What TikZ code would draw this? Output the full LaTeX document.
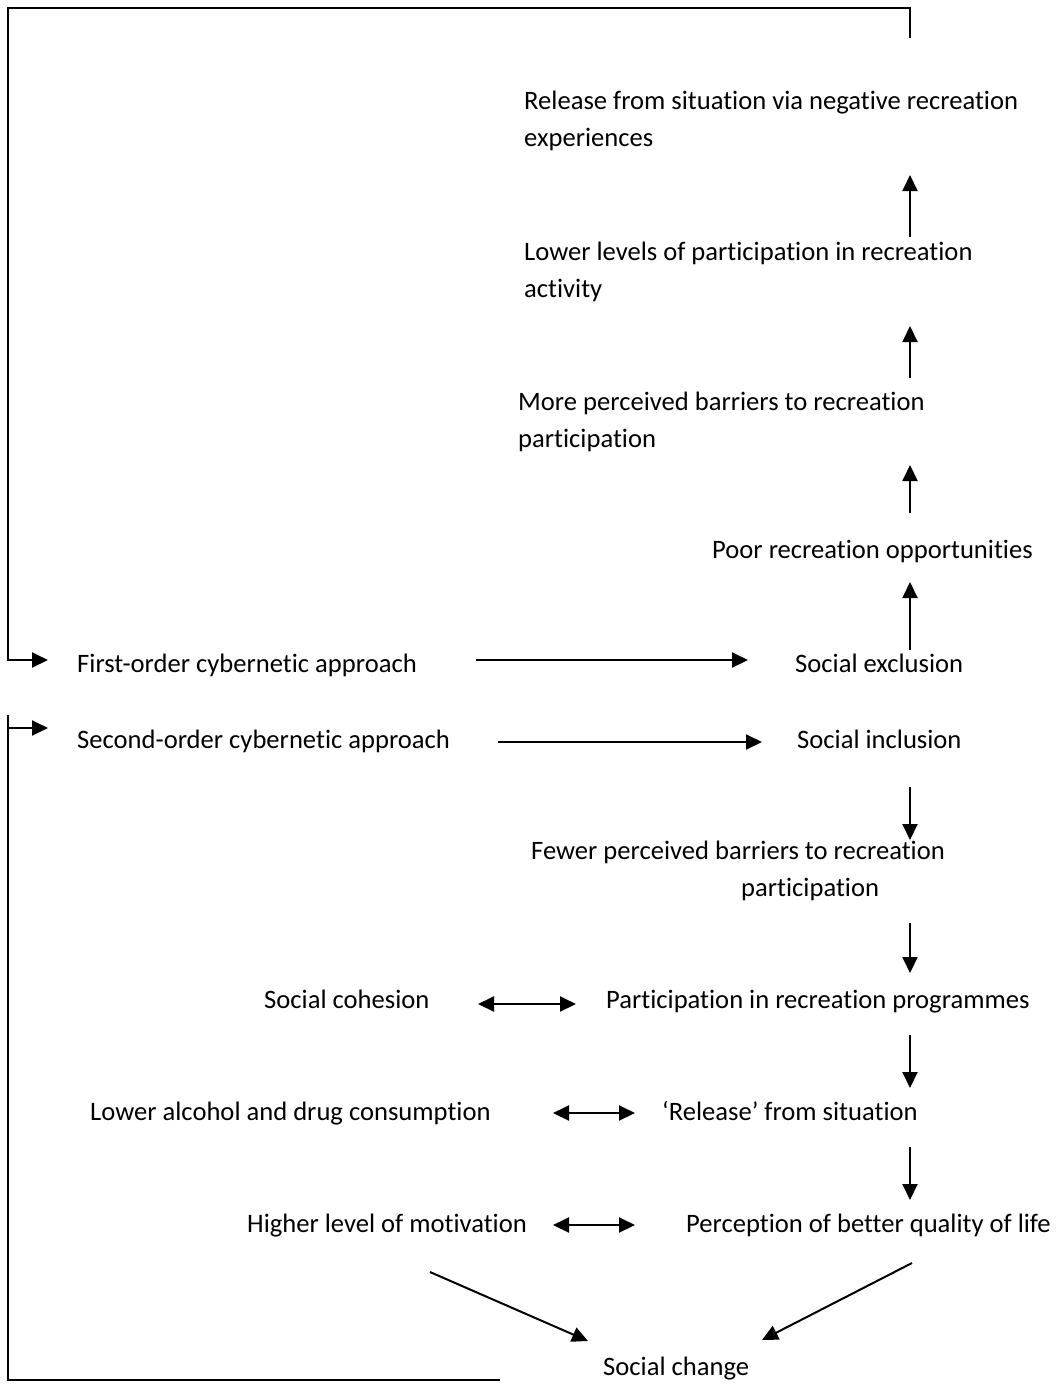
\documentclass[tikz,border=0pt]{standalone}
\usepackage{fontspec}
\setmainfont{Carlito}[Ligatures={NoCommon}]
\usetikzlibrary{arrows.meta}
\begin{document}
\begin{tikzpicture}[x=1pt,y=-1pt,
  lbl/.style={anchor=base west,inner sep=0pt,font=\fontsize{26.6}{37}\selectfont},
  arr/.style={line width=2pt,-{Triangle[length=16pt,width=15pt]}},
  darr/.style={line width=2pt,{Triangle[length=16pt,width=15pt]}-{Triangle[length=16pt,width=15pt]}},
  plain/.style={line width=2pt}]
\useasboundingbox (0,0) rectangle (1055,1387);

% nodes
\node[lbl] (rel)  at (524,109) {\vtop{\hbox{Release from situation via negative recreation}\hbox{experiences}}};
\node[lbl] (low)  at (524,260) {\vtop{\hbox{Lower levels of participation in recreation}\hbox{activity}}};
\node[lbl] (more) at (518,410) {\vtop{\hbox{More perceived barriers to recreation}\hbox{participation}}};
\node[lbl] (poor) at (712,558) {Poor recreation opportunities};
\node[lbl] (first) at (77,672) {First-order cybernetic approach};
\node[lbl] (exc)  at (795,672) {Social exclusion};
\node[lbl] (second) at (77,748) {Second-order cybernetic approach};
\node[lbl] (inc)  at (797,748) {Social inclusion};
\node[lbl] (fewer) at (531,859) {\vtop{\hbox{Fewer perceived barriers to recreation}\hbox{\hskip210pt participation}}};
\node[lbl] (coh)  at (264,1008) {Social cohesion};
\node[lbl] (part) at (606,1008) {Participation in recreation programmes};
\node[lbl] (alc)  at (90,1120) {Lower alcohol and drug consumption};
\node[lbl] (relq) at (662,1120) {‘Release’ from situation};
\node[lbl] (mot)  at (247,1232) {Higher level of motivation};
\node[lbl] (perc) at (686,1232) {Perception of better quality of life};
\node[lbl] (chg)  at (603,1375) {Social change};

\coordinate (col) at (910,0);
\coordinate (topend) at (910,38);
\coordinate (tl) at (8,8);
\coordinate (botend) at (500,1380);
\coordinate (bl) at (8,715);
\coordinate (firstarr) at ([xshift=-29pt,yshift=12pt]first.base west);
\coordinate (secarr) at ([xshift=-29pt,yshift=20pt]second.base west);

% feedback loops
\draw[arr] (topend) |- (tl) |- (firstarr);
\draw[plain] (botend) -| (bl);
\draw[arr] (bl |- secarr) -- (secarr);

% upward chain
\draw[arr] ([yshift=22pt]exc.base -| col) -- ([yshift=-24pt]poor.base -| col);
\draw[arr] ([yshift=45pt]poor.base -| col) -- ([yshift=-55pt]more.base -| col);
\draw[arr] ([yshift=32pt]more.base -| col) -- ([yshift=-66pt]low.base -| col);
\draw[arr] ([yshift=23pt]low.base -| col) -- ([yshift=-66pt]rel.base -| col);

% horizontal
\draw[arr] ([xshift=399pt,yshift=12pt]first.base west) -- ([xshift=-47pt,yshift=12pt]exc.base west);
\draw[arr] ([xshift=421pt,yshift=6pt]second.base west) -- ([xshift=-35pt,yshift=6pt]inc.base west);

% downward chain
\draw[arr] ([yshift=-39pt]inc.base -| col) -- ([yshift=19pt]fewer.base -| col);
\draw[arr] ([yshift=-64pt]fewer.base -| col) -- ([yshift=35pt]part.base -| col);
\draw[arr] ([yshift=-27pt]part.base -| col) -- ([yshift=32pt]relq.base -| col);
\draw[arr] ([yshift=-27pt]relq.base -| col) -- ([yshift=32pt]perc.base -| col);

% double arrows
\draw[darr] ([xshift=214pt,yshift=4pt]coh.base west) -- ([xshift=-30pt,yshift=4pt]part.base west);
\draw[darr] ([xshift=463pt,yshift=7pt]alc.base west) -- ([xshift=-27pt,yshift=7pt]relq.base west);
\draw[darr] ([xshift=306pt,yshift=7pt]mot.base west) -- ([xshift=-51pt,yshift=7pt]perc.base west);

% to social change
\draw[arr] ([xshift=183pt,yshift=-40pt]mot.base west) -- ([xshift=-15pt,yshift=34pt]chg.base west);
\draw[arr] ([xshift=226pt,yshift=-31pt]perc.base west) -- ([xshift=159pt,yshift=35pt]chg.base west);
\end{tikzpicture}
\end{document}
